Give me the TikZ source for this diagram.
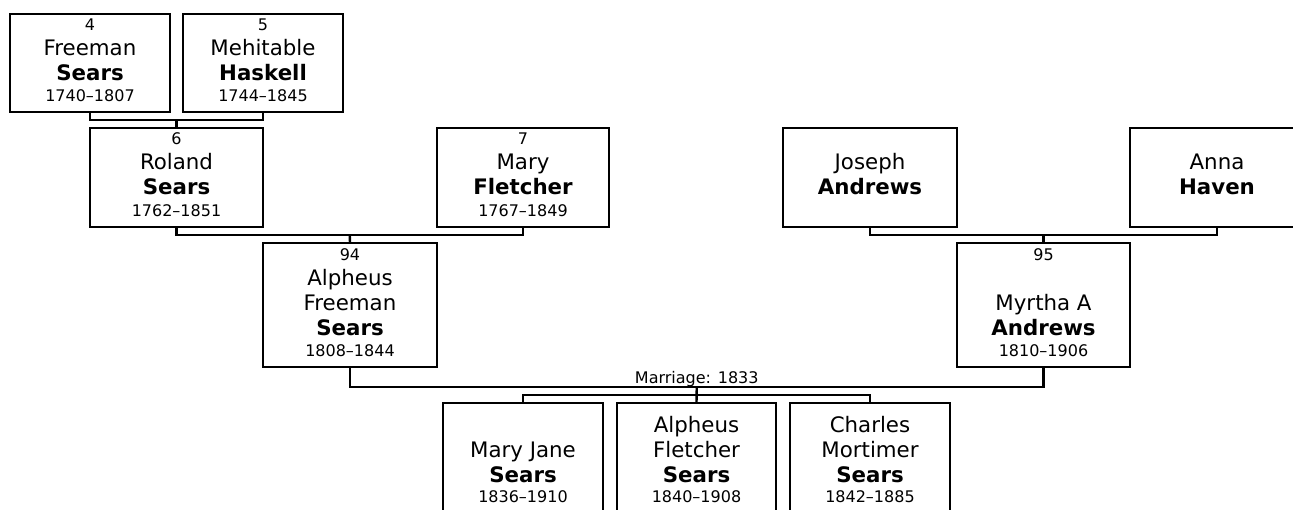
\documentclass[tikz,border=0pt]{standalone}
\usepackage{fontspec}
\setmainfont{DejaVu Sans}
\usetikzlibrary{calc}
\tikzset{
  pbox/.style={draw, line width=1.8pt, rectangle, anchor=north west, inner sep=0pt, outer sep=0pt, fill=white},
  txt/.style={anchor=base, inner sep=0pt, text=black},
  nmf/.style={txt, font=\fontsize{16pt}{19pt}\selectfont},
  sur/.style={txt, font=\fontsize{16pt}{19pt}\selectfont\bfseries},
  smf/.style={txt, font=\fontsize{12pt}{14pt}\selectfont},
  link/.style={line width=1.8pt},
}
\newcommand\pbx[5]{\node[pbox, minimum width=#4*0.75pt, minimum height=#5*0.75pt] (#1) at (#2,#3) {};}
\newcommand\trow[4]{\node[#3] (#1r#2) at ([yshift=-#2*0.75pt]#1.north) {#4};}
\begin{document}
\begin{tikzpicture}[x=0.75pt, y=-0.75pt]
\clip (0,0) rectangle (1293,510);
\fill[white] (0,0) rectangle (1293,510);
% boxes
\pbx{p4}{10}{14}{160}{98}
\pbx{p5}{183}{14}{160}{98}
\pbx{p6}{90}{128}{173}{99}
\pbx{p7}{437}{128}{172}{99}
\pbx{pj}{783}{128}{174}{99}
\pbx{pa}{1130}{128}{174}{99}
\pbx{p94}{263}{243}{174}{124}
\pbx{p95}{957}{243}{173}{124}
\pbx{c1}{443}{403}{160}{130}
\pbx{c2}{617}{403}{159}{130}
\pbx{c3}{790}{403}{160}{130}
% texts
\trow{p4}{17}{smf}{4}
\trow{p4}{42}{nmf}{Freeman}
\trow{p4}{67}{sur}{Sears}
\trow{p4}{88}{smf}{1740–1807}
\trow{p5}{17}{smf}{5}
\trow{p5}{42}{nmf}{Mehitable}
\trow{p5}{67}{sur}{Haskell}
\trow{p5}{88}{smf}{1744–1845}
\trow{p6}{17}{smf}{6}
\trow{p6}{42}{nmf}{Roland}
\trow{p6}{67}{sur}{Sears}
\trow{p6}{88}{smf}{1762–1851}
\trow{p7}{17}{smf}{7}
\trow{p7}{42}{nmf}{Mary}
\trow{p7}{67}{sur}{Fletcher}
\trow{p7}{88}{smf}{1767–1849}
\trow{pj}{42}{nmf}{Joseph}
\trow{pj}{67}{sur}{Andrews}
\trow{pa}{42}{nmf}{Anna}
\trow{pa}{67}{sur}{Haven}
\trow{p94}{17}{smf}{94}
\trow{p94}{42}{nmf}{Alpheus}
\trow{p94}{67}{nmf}{Freeman}
\trow{p94}{92}{sur}{Sears}
\trow{p94}{113}{smf}{1808–1844}
\trow{p95}{17}{smf}{95}
\trow{p95}{67}{nmf}{Myrtha A}
\trow{p95}{92}{sur}{Andrews}
\trow{p95}{113}{smf}{1810–1906}
\trow{c1}{54}{nmf}{Mary Jane}
\trow{c1}{79}{sur}{Sears}
\trow{c1}{99}{smf}{1836–1910}
\trow{c2}{29}{nmf}{Alpheus}
\trow{c2}{54}{nmf}{Fletcher}
\trow{c2}{79}{sur}{Sears}
\trow{c2}{99}{smf}{1840–1908}
\trow{c3}{29}{nmf}{Charles}
\trow{c3}{54}{nmf}{Mortimer}
\trow{c3}{79}{sur}{Sears}
\trow{c3}{99}{smf}{1842–1885}
% connectors
\draw[link] (p4.south) -- ++(0,8) -| (p5.south);
\coordinate (m45) at ($(p4.south)!0.5!(p5.south)+(0,8)$);
\draw[link] (m45) -- (p6.north);
\draw[link] (p6.south) -- ++(0,8) -| (p7.south);
\coordinate (m67) at ($(p6.south)!0.5!(p7.south)+(0,8)$);
\draw[link] (m67) -- (p94.north);
\draw[link] (pj.south) -- ++(0,8) -| (pa.south);
\coordinate (mja) at ($(pj.south)!0.5!(pa.south)+(0,8)$);
\draw[link] (mja) -- (p95.north);
\draw[link] (p94.south) -- ++(0,20) -| (p95.south);
\coordinate (mm) at ($(p94.south)!0.5!(p95.south)+(0,20)$);
\node[smf] (mlab) at ($(mm)+(0,-4)$) {Marriage: 1833};
\draw[link] (c1.north) -- ++(0,-8) -| (c3.north);
\draw[link] (mm) -- (c2.north);
\end{tikzpicture}
\end{document}
